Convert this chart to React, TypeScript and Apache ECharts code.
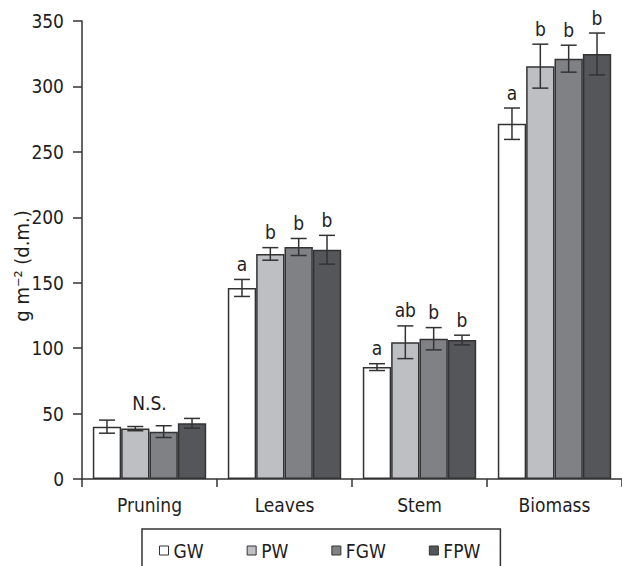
import React, { useEffect, useRef } from "react";
import * as echarts from "echarts";

const categories = ["Pruning", "Leaves", "Stem", "Biomass"];
const seriesNames = ["GW", "PW", "FGW", "FPW"];
const seriesColors = ["#ffffff", "#bebfc3", "#808185", "#55565a"];

const gwValues = [40, 146, 85.5, 271.5];
const pwValues = [38.5, 172, 104.5, 315.5];
const fgwValues = [36.2, 177.3, 107.2, 321.2];
const fpwValues = [42.6, 175.2, 106.2, 324.8];

const gwErrors = [5, 6.5, 2.6, 12];
const pwErrors = [1.6, 4.8, 12.5, 16.8];
const fgwErrors = [4.5, 6.5, 8.5, 10.3];
const fpwErrors = [3.7, 11, 3.7, 16];

const gwLetters = ["", "a", "a", "a"];
const pwLetters = ["", "b", "ab", "b"];
const fgwLetters = ["", "b", "b", "b"];
const fpwLetters = ["", "b", "b", "b"];

const groupNotes = ["N.S.", "", "", ""];

const yTicks = [0, 50, 100, 150, 200, 250, 300, 350];

const allValues = [gwValues, pwValues, fgwValues, fpwValues];
const allErrors = [gwErrors, pwErrors, fgwErrors, fpwErrors];
const allLetters = [gwLetters, pwLetters, fgwLetters, fpwLetters];

const FONT = "'Liberation Sans Narrow', 'DejaVu Sans Condensed', 'Roboto', sans-serif";
const INK = "#333333";
const TEXT = "#1e1e1e";
const CATEGORY_GAP = 0.16;

export default function App() {
  const ref = useRef<HTMLDivElement>(null);

  useEffect(() => {
    if (!ref.current) return;
    const chart = echarts.init(ref.current, undefined, { renderer: "svg" });
    const nSeries = seriesNames.length;

    const barSeries = seriesNames.map((name, j) => ({
      name,
      type: "bar",
      data: allValues[j],
      barGap: "0%",
      barCategoryGap: CATEGORY_GAP * 100 + "%",
      itemStyle: { color: seriesColors[j], borderColor: INK, borderWidth: 1.5 },
      z: 2,
    }));

    const errSeries = seriesNames.map((name, j) => ({
      type: "custom",
      name: name + "-err",
      z: 3,
      data: allValues[j].map((v, i) => [i, v - allErrors[j][i], v + allErrors[j][i]]),
      renderItem: (params: any, api: any) => {
        const i = api.value(0);
        const lo = api.value(1);
        const hi = api.value(2);
        const band = api.size([1, 0])[0];
        const center = api.coord([i, 0])[0];
        const barW = (band * (1 - CATEGORY_GAP)) / nSeries;
        const x = center - (band * (1 - CATEGORY_GAP)) / 2 + barW * (j + 0.5);
        const yLo = api.coord([i, lo])[1];
        const yHi = api.coord([i, hi])[1];
        const cap = 8;
        const style = { stroke: INK, lineWidth: 1.5 };
        const children: any[] = [
          { type: "line", shape: { x1: x, y1: yLo, x2: x, y2: yHi }, style },
          { type: "line", shape: { x1: x - cap, y1: yHi, x2: x + cap, y2: yHi }, style },
          { type: "line", shape: { x1: x - cap, y1: yLo, x2: x + cap, y2: yLo }, style },
        ];
        const letter = allLetters[j][i];
        if (letter) {
          children.push({
            type: "text",
            style: {
              text: letter,
              x,
              y: yHi - 6,
              textAlign: "center",
              textVerticalAlign: "bottom",
              fontSize: 19,
              fontFamily: FONT,
              fill: TEXT,
            },
          });
        }
        return { type: "group", children };
      },
    }));

    const noteSeries = {
      type: "custom",
      name: "notes",
      z: 3,
      data: categories.map((_, i) => [
        i,
        Math.max(...allValues.map((vals, j) => vals[i] + allErrors[j][i])),
      ]),
      renderItem: (params: any, api: any) => {
        const i = api.value(0);
        const note = groupNotes[i];
        if (!note) return { type: "group", children: [] };
        const p = api.coord([i, api.value(1)]);
        return {
          type: "text",
          style: {
            text: note,
            x: p[0],
            y: p[1] - 6,
            textAlign: "center",
            textVerticalAlign: "bottom",
            fontSize: 19,
            fontFamily: FONT,
            fill: TEXT,
          },
        };
      },
    };

    chart.setOption({
      animation: false,
      backgroundColor: "#ffffff",
      textStyle: { fontFamily: FONT },
      grid: { left: 82, right: -8, top: 21, bottom: 87, containLabel: false },
      legend: {
        data: seriesNames,
        left: 142,
        top: 529,
        orient: "horizontal",
        icon: "rect",
        itemWidth: 9,
        itemHeight: 9,
        itemGap: 43,
        padding: [12, 20, 40, 17],
        borderColor: INK,
        borderWidth: 1.5,
        borderRadius: 0,
        textStyle: { fontSize: 19, color: TEXT, fontFamily: FONT },
        itemStyle: { borderColor: INK, borderWidth: 1 },
      },
      xAxis: {
        type: "category",
        data: categories,
        axisLine: { lineStyle: { color: INK, width: 1.5 } },
        axisTick: { show: true, length: 8, lineStyle: { color: INK, width: 1.5 } },
        axisLabel: { fontSize: 19, color: TEXT, margin: 16, fontFamily: FONT },
      },
      yAxis: {
        type: "value",
        min: yTicks[0],
        max: yTicks[yTicks.length - 1],
        interval: yTicks[1] - yTicks[0],
        axisLine: { show: true, lineStyle: { color: INK, width: 1.5 } },
        axisTick: { show: true, length: 9, lineStyle: { color: INK, width: 1.5 } },
        splitLine: { show: false },
        axisLabel: { fontSize: 19, color: TEXT, margin: 18, fontFamily: FONT },
      },
      graphic: [
        {
          type: "text",
          x: 22,
          y: 266,
          rotation: Math.PI / 2,
          style: {
            text: "g m\u207B\u00B2 (d.m.)",
            textAlign: "center",
            textVerticalAlign: "middle",
            fontSize: 20,
            fontFamily: FONT,
            fill: TEXT,
          },
        },
      ],
      series: [...barSeries, ...errSeries, noteSeries],
    });

    return () => chart.dispose();
  }, []);

  return (
    <div
      ref={ref}
      style={{ position: "absolute", left: 0, top: 0, width: 622, height: 566 }}
    />
  );
}
